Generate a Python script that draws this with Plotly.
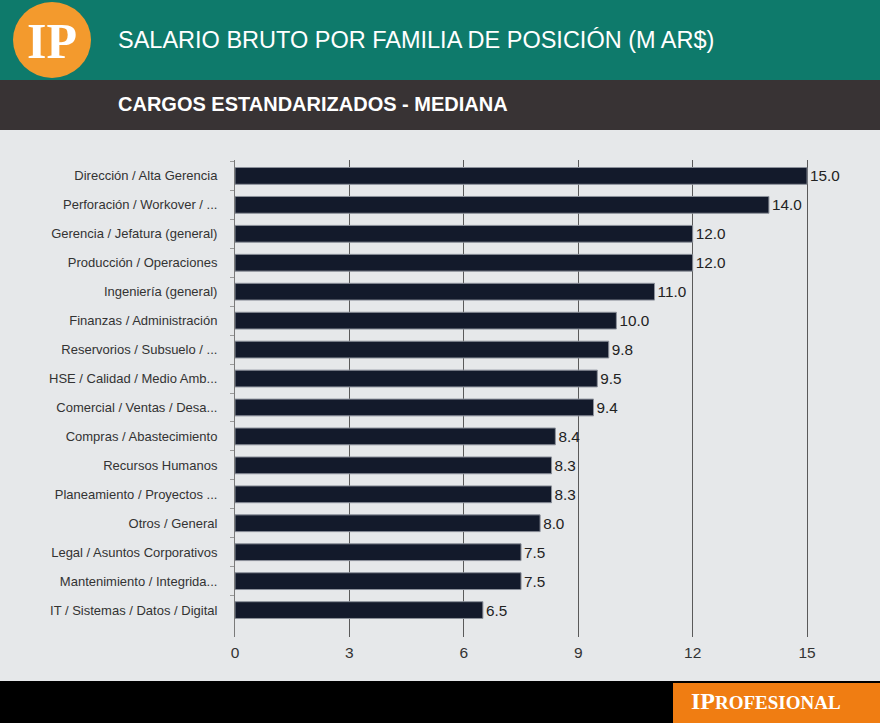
import plotly.graph_objects as go

categories = [
    "Dirección / Alta Gerencia",
    "Perforación / Workover / ...",
    "Gerencia / Jefatura (general)",
    "Producción / Operaciones",
    "Ingeniería (general)",
    "Finanzas / Administración",
    "Reservorios / Subsuelo / ...",
    "HSE / Calidad / Medio Amb...",
    "Comercial / Ventas / Desa...",
    "Compras / Abastecimiento",
    "Recursos Humanos",
    "Planeamiento / Proyectos ...",
    "Otros / General",
    "Legal / Asuntos Corporativos",
    "Mantenimiento / Integrida...",
    "IT / Sistemas / Datos / Digital",
]
values = [15.0, 14.0, 12.0, 12.0, 11.0, 10.0, 9.8, 9.5, 9.4, 8.4, 8.3, 8.3, 8.0, 7.5, 7.5, 6.5]
x_ticks = [0, 3, 6, 9, 12, 15]

title = "SALARIO BRUTO POR FAMILIA DE POSICIÓN (M AR$)"
subtitle = "CARGOS ESTANDARIZADOS - MEDIANA"

NARROW = "Liberation Sans Narrow, Arial Narrow, Liberation Sans, sans-serif"
SERIF = "Liberation Serif, DejaVu Serif, serif"

fig = go.Figure(go.Bar(
    x=values,
    y=categories,
    orientation="h",
    marker=dict(color="#131a2b", line=dict(color="#8c919b", width=1)),
    width=0.58,
    text=[f"{v:.1f}" for v in values],
    textposition="outside",
    cliponaxis=False,
    textfont=dict(family=NARROW, size=15.5, color="#222222"),
    hoverinfo="x+y",
))

W, H = 880, 723
ML, MR, MT, MB = 235, 10, 160, 86
PW, PH = W - ML - MR, H - MT - MB


def px(x):
    return (x - ML) / PW


def py(y):
    return (H - MB - y) / PH


fig.update_layout(
    width=W, height=H,
    paper_bgcolor="#e6e8ea",
    plot_bgcolor="#e6e8ea",
    margin=dict(l=ML, r=MR, t=MT, b=MB),
    showlegend=False,
    xaxis=dict(
        range=[0, 16.65],
        tickvals=x_ticks,
        showgrid=True, gridcolor="#5a5a5a", gridwidth=1,
        zeroline=False, showline=False, ticks="",
        ticklabelstandoff=4,
        tickfont=dict(family=NARROW, size=15.5, color="#333333"),
    ),
    yaxis=dict(
        categoryorder="array", categoryarray=categories,
        range=[15.93, -0.55],
        showgrid=False, zeroline=False,
        showline=True, linecolor="#7a7a7a", linewidth=1,
        ticks="outside", tickson="boundaries", ticklen=4, tickcolor="#9a9a9a",
        ticklabelstandoff=14,
        tickfont=dict(family=NARROW, size=13, color="#333333"),
    ),
    shapes=[
        dict(type="rect", xref="paper", yref="paper", layer="below",
             x0=px(0), x1=px(W), y0=py(80), y1=py(0),
             fillcolor="#0e7a6b", line=dict(width=0)),
        dict(type="rect", xref="paper", yref="paper", layer="below",
             x0=px(0), x1=px(W), y0=py(130), y1=py(80),
             fillcolor="#383334", line=dict(width=0)),
        dict(type="rect", xref="paper", yref="paper", layer="below",
             x0=px(0), x1=px(W), y0=py(H), y1=py(681),
             fillcolor="#000000", line=dict(width=0)),
        dict(type="rect", xref="paper", yref="paper", layer="below",
             x0=px(673), x1=px(W), y0=py(H), y1=py(683),
             fillcolor="#f07d12", line=dict(width=0)),
        dict(type="circle", xref="paper", yref="paper", layer="above",
             x0=px(13), x1=px(91), y0=py(78), y1=py(2),
             fillcolor="#f39a2d", line=dict(width=0)),
    ],
    annotations=[
        dict(text=title, xref="paper", yref="paper",
             x=px(116), y=py(40), xanchor="left", yanchor="middle",
             showarrow=False, font=dict(family=NARROW, size=23.5, color="#ffffff")),
        dict(text="<b>" + subtitle + "</b>", xref="paper", yref="paper",
             x=px(116), y=py(104), xanchor="left", yanchor="middle",
             showarrow=False, font=dict(family=NARROW, size=20, color="#ffffff")),
        dict(text="<b>IP</b>", xref="paper", yref="paper",
             x=px(52), y=py(41), xanchor="center", yanchor="middle",
             showarrow=False, font=dict(family=SERIF, size=50, color="#ffffff")),
        dict(text="<b><span style='font-size:24px'>IP</span>ROFESIONAL</b>", xref="paper", yref="paper",
             x=px(766), y=py(701), xanchor="center", yanchor="middle",
             showarrow=False, font=dict(family=SERIF, size=19, color="#ffffff")),
    ],
)

fig.write_html("out.html")
